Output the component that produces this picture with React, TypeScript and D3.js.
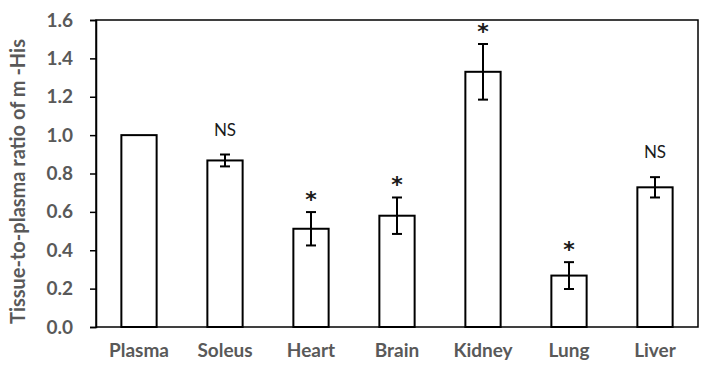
import React from "react";
import * as d3 from "d3";

// tissue names, mean ratio, error (half-length) and significance label
const tissues = ["Plasma", "Soleus", "Heart", "Brain", "Kidney", "Lung", "Liver"];
const ratios = [1.0, 0.868, 0.512, 0.58, 1.33, 0.268, 0.728];
const errors = [0, 0.031, 0.087, 0.095, 0.145, 0.07, 0.053];
const marks = ["", "NS", "*", "*", "*", "*", "NS"];
const yTicks = [0, 0.2, 0.4, 0.6, 0.8, 1.0, 1.2, 1.4, 1.6];

const width = 708;
const height = 367;
const margin = { top: 20, right: 10, bottom: 40, left: 96 };

export default function App() {
    const ref = React.useRef<SVGSVGElement>(null);

    React.useEffect(() => {
        const svg = d3.select(ref.current);
        svg.selectAll("*").remove();

        const x = d3
            .scaleBand()
            .domain(tissues)
            .range([margin.left, width - margin.right])
            .paddingInner(0.59)
            .paddingOuter(0.295);

        const y = d3
            .scaleLinear()
            .domain([0, 1.6])
            .range([height - margin.bottom, margin.top]);

        const font = "Lato, 'Open Sans', sans-serif";
        const gray = "#595959";

        // frame
        svg.append("rect")
            .attr("x", margin.left)
            .attr("y", margin.top)
            .attr("width", width - margin.right - margin.left)
            .attr("height", y(0) - margin.top)
            .attr("fill", "none")
            .attr("stroke", "#000")
            .attr("stroke-width", 1.5);

        // y axis
        const yAxis = svg
            .append("g")
            .attr("transform", `translate(${margin.left},0)`)
            .call(
                d3.axisLeft(y)
                    .tickValues(yTicks)
                    .tickFormat(d3.format(".1f"))
                    .tickSize(6)
                    .tickPadding(17)
            );
        yAxis.select(".domain").attr("stroke", "#000").attr("stroke-width", 1.5);
        yAxis.selectAll(".tick line").attr("stroke", "#000").attr("stroke-width", 1.5);
        yAxis
            .selectAll(".tick text")
            .attr("fill", gray)
            .attr("font-family", font)
            .attr("font-weight", "bold")
            .attr("font-size", 19);

        // x labels
        svg.append("g")
            .selectAll("text")
            .data(tissues)
            .enter()
            .append("text")
            .attr("x", (d) => (x(d) as number) + x.bandwidth() / 2)
            .attr("y", 357)
            .attr("text-anchor", "middle")
            .attr("fill", gray)
            .attr("font-family", font)
            .attr("font-weight", "bold")
            .attr("font-size", 19)
            .text((d) => d);

        // bars
        svg.append("g")
            .selectAll("rect")
            .data(tissues)
            .enter()
            .append("rect")
            .attr("x", (d) => x(d) as number)
            .attr("y", (d, i) => y(ratios[i]))
            .attr("width", x.bandwidth())
            .attr("height", (d, i) => y(0) - y(ratios[i]))
            .attr("fill", "#fff")
            .attr("stroke", "#000")
            .attr("stroke-width", 2);

        // error bars
        const eb = svg
            .append("g")
            .selectAll("g")
            .data(tissues.filter((d, i) => errors[i] > 0))
            .enter()
            .append("g")
            .attr("stroke", "#000")
            .attr("stroke-width", 2);
        const cx = (d: string) => (x(d) as number) + x.bandwidth() / 2;
        const idx = (d: string) => tissues.indexOf(d);
        eb.append("line")
            .attr("x1", cx)
            .attr("x2", cx)
            .attr("y1", (d) => y(ratios[idx(d)] + errors[idx(d)]))
            .attr("y2", (d) => y(ratios[idx(d)] - errors[idx(d)]));
        [1, -1].forEach((s) => {
            eb.append("line")
                .attr("x1", (d) => cx(d) - 5)
                .attr("x2", (d) => cx(d) + 5)
                .attr("y1", (d) => y(ratios[idx(d)] + s * errors[idx(d)]))
                .attr("y2", (d) => y(ratios[idx(d)] + s * errors[idx(d)]));
        });

        // significance labels
        svg.append("g")
            .selectAll("text")
            .data(tissues.filter((d, i) => marks[i] !== ""))
            .enter()
            .append("text")
            .attr("x", cx)
            .attr("y", (d) => {
                const top = y(ratios[idx(d)] + errors[idx(d)]);
                return marks[idx(d)] === "NS" ? top - 19 : top - 5;
            })
            .attr("text-anchor", "middle")
            .attr("fill", "#1a1a1a")
            .attr("font-family", (d) => (marks[idx(d)] === "NS" ? font : "'DejaVu Sans', sans-serif"))
            .attr("font-weight", (d) => (marks[idx(d)] === "NS" ? "normal" : "bold"))
            .attr("font-size", (d) => (marks[idx(d)] === "NS" ? 17 : 22))
            .text((d) => marks[idx(d)]);

        // y title
        svg.append("text")
            .attr("transform", `translate(25,${(margin.top + y(0)) / 2 + 8}) rotate(-90)`)
            .attr("text-anchor", "middle")
            .attr("fill", gray)
            .attr("font-family", font)
            .attr("font-weight", "bold")
            .attr("font-size", 20)
            .text("Tissue-to-plasma ratio of m -His");
    }, []);

    return (
        <div style={{ position: "absolute", left: 0, top: 0, background: "#fff" }}>
            <svg ref={ref} width={width} height={height} />
        </div>
    );
}
